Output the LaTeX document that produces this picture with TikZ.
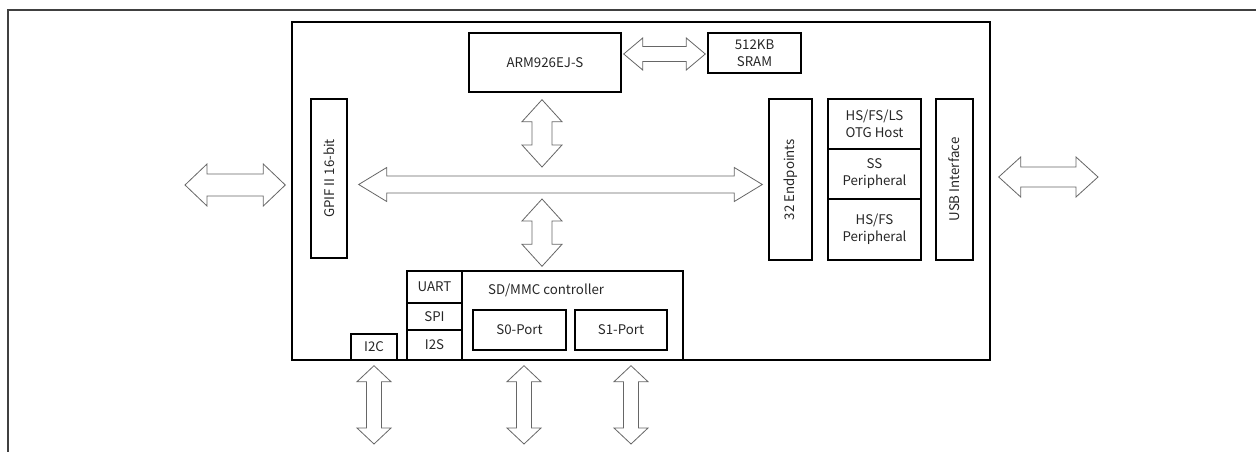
\documentclass[tikz,border=0pt]{standalone}
\usepackage{fontspec}
\setmainfont{Noto Sans CJK SC}
\usetikzlibrary{calc}
\tikzset{
  blk/.style={draw=black, line width=1.4pt, rectangle, inner sep=0pt, align=center,
    font=\fontsize{13.3}{17}\selectfont, text=black!85},
  lbl/.style={inner sep=0pt, font=\fontsize{13.3}{17}\selectfont, text=black!85},
  barrowstyle/.style={draw=black!60, line width=0.8pt, fill=white, line join=miter},
}
% double block arrow between two named points: #1,#2 ends, #3 head length, #4 head half width, #5 shaft half width
\newcommand\barrow[5]{%
  \draw[barrowstyle] (#1)
   -- ($(#1)!#3!(#2)!#4!90:(#2)$)
   -- ($(#1)!#3!(#2)!#5!90:(#2)$)
   -- ($(#2)!#3!(#1)!#5!-90:(#1)$)
   -- ($(#2)!#3!(#1)!#4!-90:(#1)$)
   -- (#2)
   -- ($(#2)!#3!(#1)!#4!90:(#1)$)
   -- ($(#2)!#3!(#1)!#5!90:(#1)$)
   -- ($(#1)!#3!(#2)!#5!-90:(#2)$)
   -- ($(#1)!#3!(#2)!#4!-90:(#2)$)
   -- cycle;}
\begin{document}
\begin{tikzpicture}[x=1pt,y=-1pt]
\useasboundingbox (0,0) rectangle (1256,452);
% outer frame
\draw[black!75, line width=1.2pt] (8,452) -- (8,10) -- (1256,10);
% chip
\node[blk, minimum width=698pt, minimum height=338pt] (chip) at (641,191) {};
% blocks
\node[blk, minimum width=36pt, minimum height=159pt] (gpif) at (329,178.5) {};
\node[lbl, rotate=90] at (gpif) {GPIF II 16-bit};
\node[blk, minimum width=152pt, minimum height=59pt] (arm) at (545,62.5) {ARM926EJ-S};
\node[blk, minimum width=93pt, minimum height=40pt] (sram) at (754.5,53) {512KB\\SRAM};
\node[blk, minimum width=43pt, minimum height=161pt] (ep) at (790.5,179.5) {};
\node[lbl, rotate=90] at (ep) {32 Endpoints};
\node[blk, minimum width=93pt, minimum height=50pt] (otg) at (874.5,124) {HS/FS/LS\\OTG Host};
\node[blk, minimum width=93pt, minimum height=50pt] (ssp) at (874.5,174) {SS\\Peripheral};
\node[blk, minimum width=93pt, minimum height=61pt] (hsp) at (874.5,229.5) {HS/FS\\Peripheral};
\node[blk, minimum width=37pt, minimum height=161pt] (usb) at (954.5,179.5) {};
\node[lbl, rotate=90] at (usb) {USB Interface};
\node[blk, minimum width=221pt, minimum height=89pt] (sd) at (572.5,315.5) {};
\node[lbl, anchor=west] (sdl) at (488,290) {SD/MMC controller};
\node[blk, minimum width=55pt, minimum height=32pt] (uart) at (434.5,287) {UART};
\node[blk, minimum width=55pt, minimum height=27pt] (spi) at (434.5,316.5) {SPI};
\node[blk, minimum width=55pt, minimum height=30pt] (i2s) at (434.5,345) {I2S};
\node[blk, minimum width=93pt, minimum height=40pt] (s0) at (519.5,330) {S0-Port};
\node[blk, minimum width=92pt, minimum height=40pt] (s1) at (621,330) {S1-Port};
\node[blk, minimum width=46pt, minimum height=26pt] (i2c) at (374,347) {I2C};
% arrow end points
\coordinate (extL) at (185,185);
\coordinate (extLe) at ($(chip.west |- extL)+(-6,0)$);
\coordinate (busA) at ($(gpif.east |- 0,184.5)+(11,0)$);
\coordinate (busB) at ($(ep.west |- 0,184.5)+(-6,0)$);
\coordinate (armA) at ($(arm.south -| 542,0)+(0,7)$);
\coordinate (armB) at (542,167);
\coordinate (sdA) at (542,199);
\coordinate (sdB) at ($(sd.north -| 542,0)+(0,-4)$);
\coordinate (sramA) at ($(arm.east |- sram.west)+(2,1)$);
\coordinate (sramB) at ($(sram.west)+(-2,1)$);
\coordinate (extRs) at ($(chip.east |- 0,177)+(8,0)$);
\coordinate (extR) at (1098,177);
\coordinate (i2cA) at ($(i2c.south)+(0,5)$);
\coordinate (i2cB) at (374,444);
\coordinate (s0A) at ($(s0.south -| 524,0)+(0,15)$);
\coordinate (s0B) at (524,444);
\coordinate (s1A) at ($(s1.south -| 631,0)+(0,15)$);
\coordinate (s1B) at (631,444);
% arrows
\barrow{extL}{extLe}{22pt}{21pt}{11pt}
\barrow{busA}{busB}{28pt}{17pt}{8.5pt}
\barrow{armA}{armB}{22pt}{20pt}{10pt}
\barrow{sdA}{sdB}{22pt}{20pt}{10pt}
\barrow{sramA}{sramB}{19pt}{16pt}{7.5pt}
\barrow{extRs}{extR}{22pt}{20pt}{10pt}
\barrow{i2cA}{i2cB}{16pt}{17pt}{7.5pt}
\barrow{s0A}{s0B}{16pt}{17pt}{7.5pt}
\barrow{s1A}{s1B}{16pt}{17pt}{7.5pt}
\end{tikzpicture}
\end{document}
